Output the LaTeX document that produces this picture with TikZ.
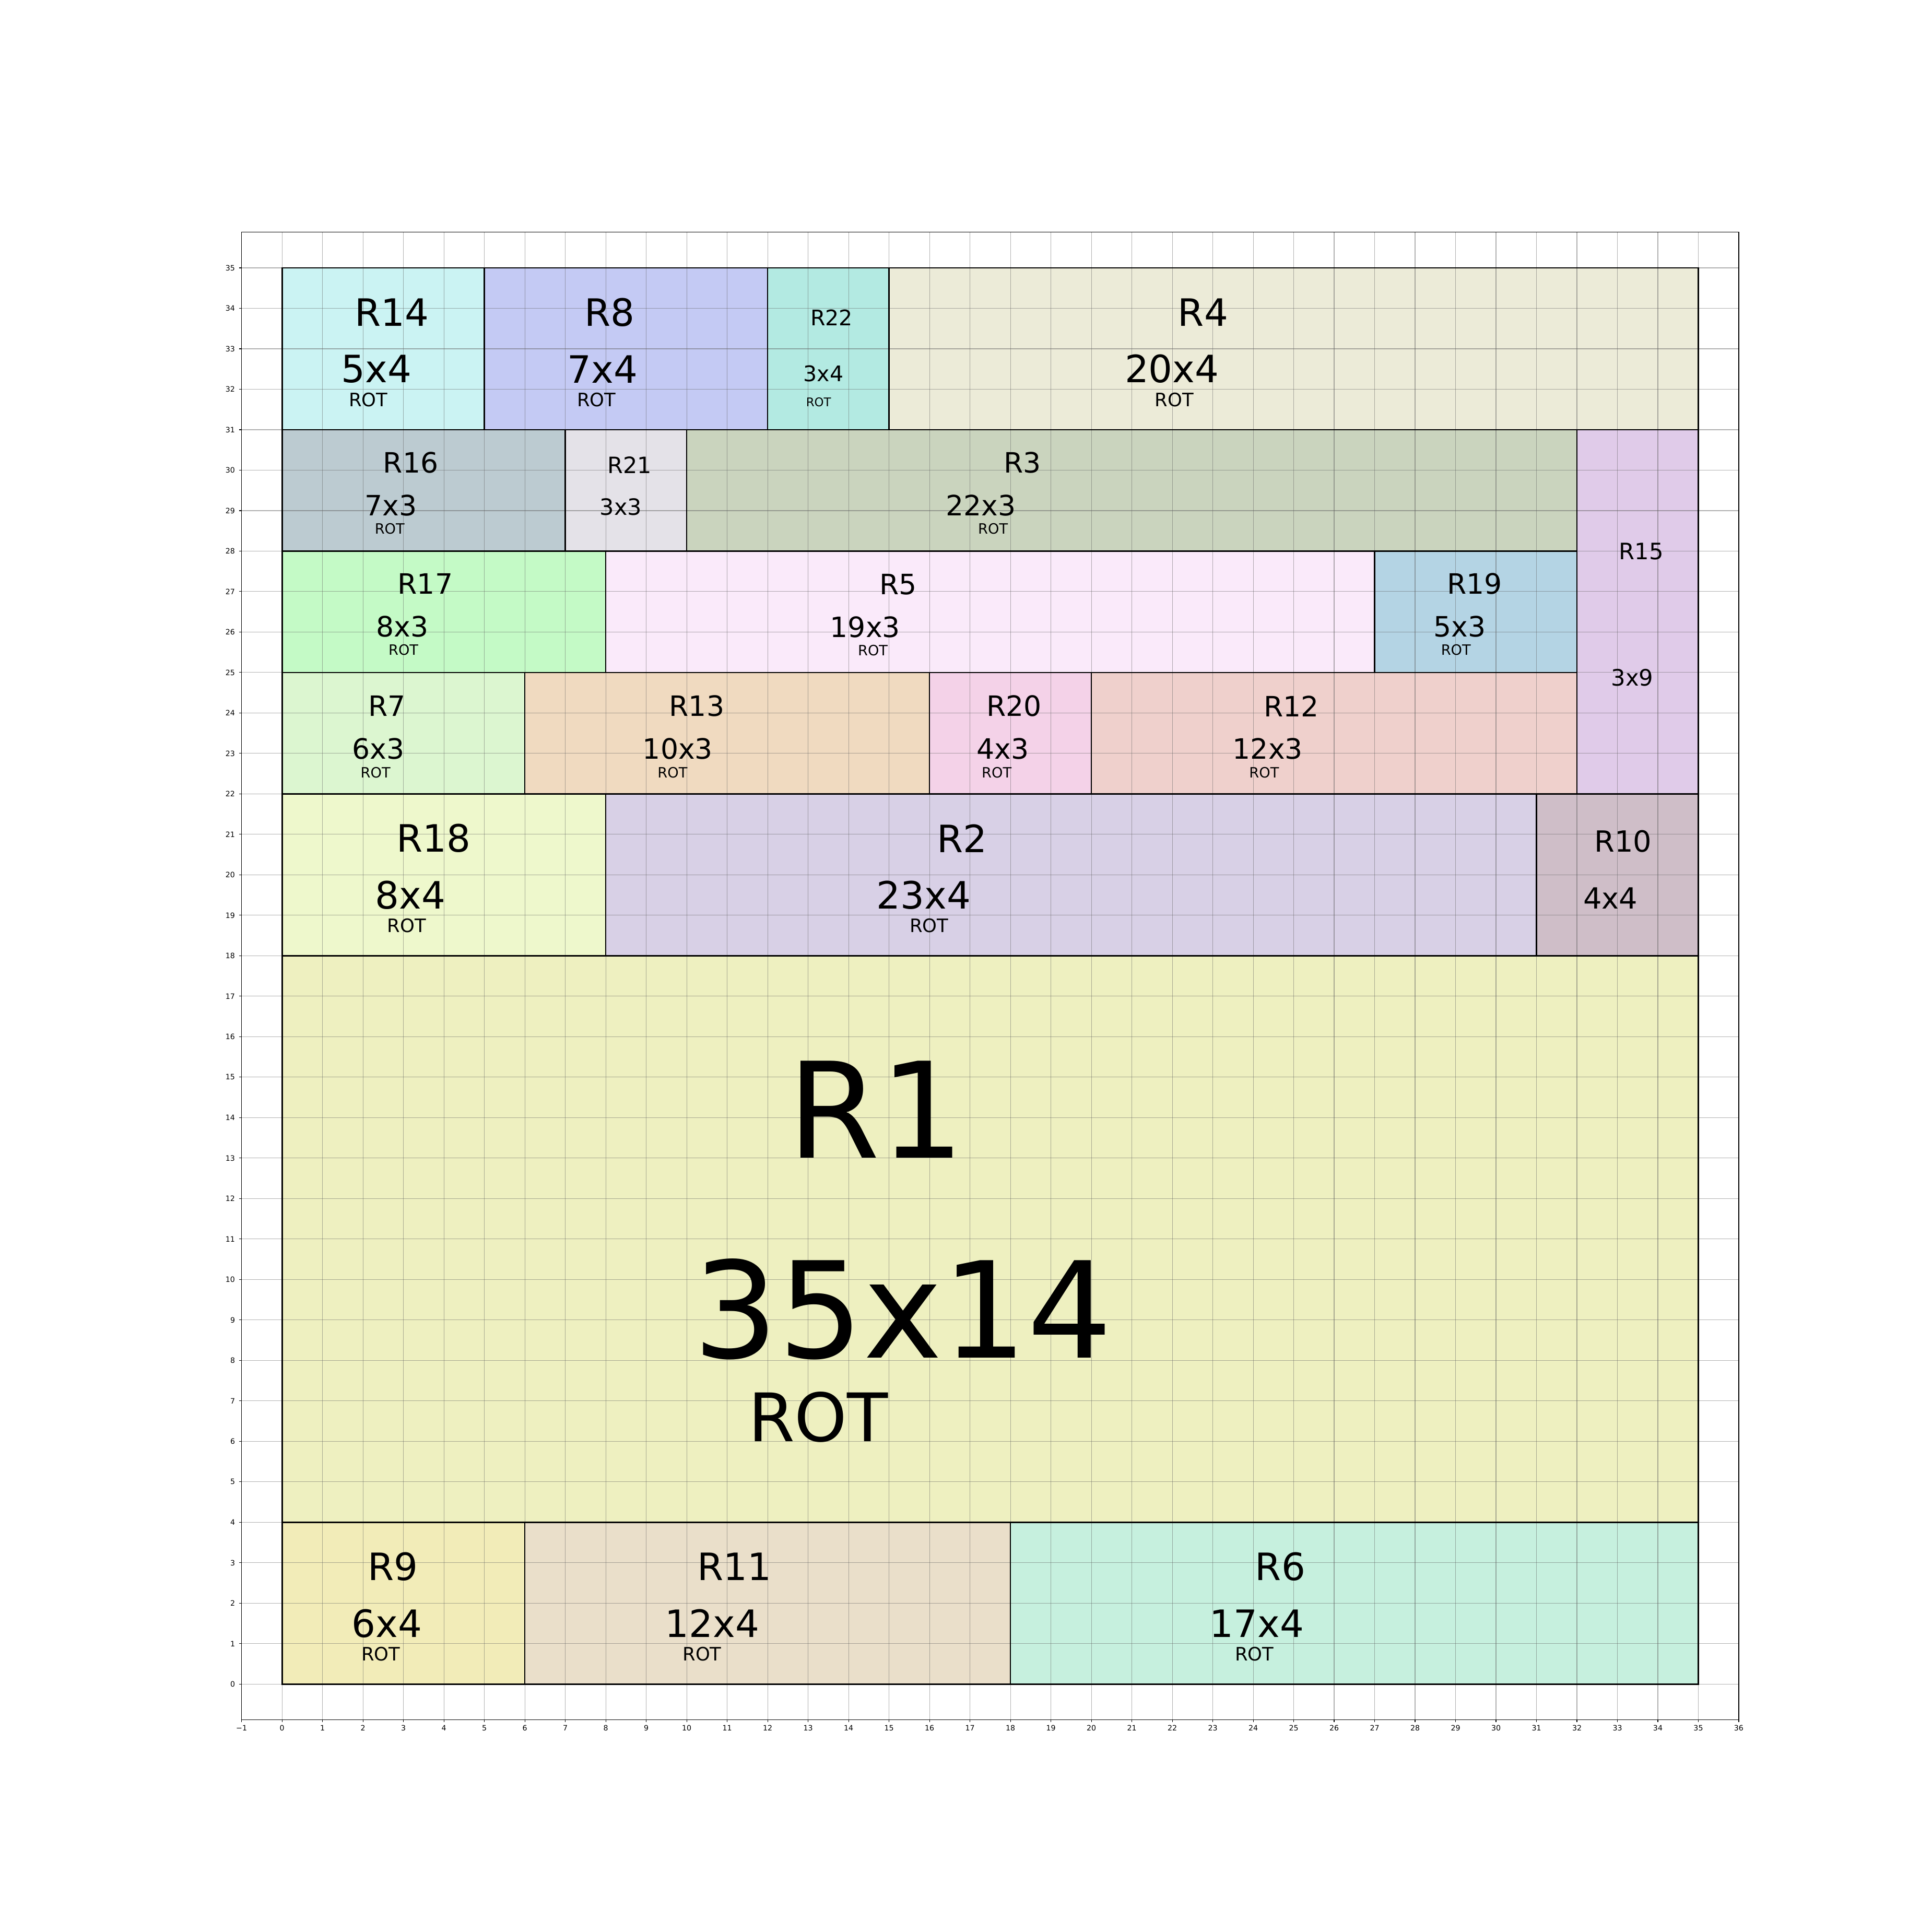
\documentclass[tikz,border=0pt]{standalone}
\usepackage{fontspec}
\setmainfont{DejaVu Sans}
\usepackage{xcolor}
\usetikzlibrary{positioning}
\definecolor{gridc}{HTML}{616161}
\definecolor{cR1}{HTML}{EEF0C0}
\definecolor{cR2}{HTML}{D8D0E6}
\definecolor{cR3}{HTML}{CAD4BE}
\definecolor{cR4}{HTML}{ECEBD8}
\definecolor{cR5}{HTML}{FAEAFA}
\definecolor{cR6}{HTML}{C6F0DE}
\definecolor{cR7}{HTML}{DCF6D0}
\definecolor{cR8}{HTML}{C4CAF4}
\definecolor{cR9}{HTML}{F2ECB8}
\definecolor{cR10}{HTML}{CFBEC8}
\definecolor{cR11}{HTML}{EADFCA}
\definecolor{cR12}{HTML}{EFD0CC}
\definecolor{cR13}{HTML}{F0DAC0}
\definecolor{cR14}{HTML}{CBF3F3}
\definecolor{cR15}{HTML}{E0CBE9}
\definecolor{cR16}{HTML}{BCCBD1}
\definecolor{cR17}{HTML}{C4FAC6}
\definecolor{cR18}{HTML}{EEF8CC}
\definecolor{cR19}{HTML}{B4D4E4}
\definecolor{cR20}{HTML}{F4D2E8}
\definecolor{cR21}{HTML}{E4E2E8}
\definecolor{cR22}{HTML}{B3EAE2}

\begin{document}
\begin{tikzpicture}[
  lbl/.style={inner sep=0pt, font=\fontsize{#1}{#1}\selectfont},
  ticklbl/.style={inner sep=0pt, font=\fontsize{5.2}{5.2}\selectfont},
  box/.style={draw=black, line width=1pt},
  gridline/.style={draw=gridc, line width=0.4pt, opacity=0.5},
  spine/.style={draw=black, line width=0.4pt}
]
\useasboundingbox (-6.97,-6.125) rectangle (40.77,41.62);

% Packed rectangles: colour/x/y/w/h
\def\boxlist{cR14/0/31/5/4, cR8/5/31/7/4, cR22/12/31/3/4, cR4/15/31/20/4,
  cR16/0/28/7/3, cR21/7/28/3/3, cR3/10/28/22/3, cR15/32/22/3/9,
  cR17/0/25/8/3, cR5/8/25/19/3, cR19/27/25/5/3,
  cR7/0/22/6/3, cR13/6/22/10/3, cR20/16/22/4/3, cR12/20/22/12/3,
  cR18/0/18/8/4, cR2/8/18/23/4, cR10/31/18/4/4,
  cR1/0/4/35/14,
  cR9/0/0/6/4, cR11/6/0/12/4, cR6/18/0/17/4}
\foreach \c/\x/\y/\w/\h in \boxlist {
  \fill[fill=\c] (\x,\y) rectangle ++(\w,\h);
}

% Grid
\foreach \x in {-1,...,36} {
  \draw[gridline] (\x,-0.88) -- (\x,35.88);
}
\foreach \y in {0,...,35} {
  \draw[gridline] (-1,\y) -- (36,\y);
}

% Borders
\foreach \c/\x/\y/\w/\h in \boxlist {
  \draw[box] (\x,\y) rectangle ++(\w,\h);
}

% Axes frame and ticks
\draw[spine] (-1,-0.88) rectangle (36,35.88);
\foreach \x in {0,...,36} {
  \draw[spine] (\x,-0.88) -- ++(0,-0.063);
  \node[ticklbl] (xt\x) at (\x,-1.08) {\x};
}
\draw[spine] (-1,-0.88) -- ++(0,-0.063);
\node[ticklbl] (xtm1) at (-1,-1.08) {−1};
\foreach \y in {0,...,35} {
  \draw[spine] (-1,\y) -- ++(-0.063,0);
  \node[ticklbl, anchor=east] (yt\y) at (-1.156,\y) {\y};
}

% Top row
\node[lbl=26.5] (r14name) at (2.71,33.90) {R14};
\node[lbl=26.5] (r14size) at (2.33,32.50) {5x4};
\node[lbl=13] (r14rot) at (2.13,31.74) {ROT};
\node[lbl=26.5] (r8name) at (8.10,33.90) {R8};
\node[lbl=26.5] (r8size) at (7.92,32.50) {7x4};
\node[lbl=13] (r8rot) at (7.77,31.74) {ROT};
\node[lbl=15.1] (r22name) at (13.58,33.77) {R22};
\node[lbl=15.1] (r22size) at (13.38,32.38) {3x4};
\node[lbl=8.4] (r22rot) at (13.26,31.68) {ROT};
\node[lbl=26.5] (r4name) at (22.76,33.90) {R4};
\node[lbl=26.5] (r4size) at (21.99,32.50) {20x4};
\node[lbl=13] (r4rot) at (22.05,31.74) {ROT};

% Row 28-31
\node[lbl=19.7] (r16name) at (3.18,30.19) {R16};
\node[lbl=19.7] (r16size) at (2.69,29.13) {7x3};
\node[lbl=10] (r16rot) at (2.66,28.55) {ROT};
\node[lbl=15.8] (r21name) at (8.59,30.13) {R21};
\node[lbl=15.8] (r21size) at (8.37,29.09) {3x3};
\node[lbl=19.7] (r3name) at (18.30,30.19) {R3};
\node[lbl=19.7] (r3size) at (17.27,29.13) {22x3};
\node[lbl=10] (r3rot) at (17.57,28.55) {ROT};

% Tall one on the right
\node[lbl=15.9] (r15name) at (33.59,27.99) {R15};
\node[lbl=15.9] (r15size) at (33.37,24.87) {3x9};

% Row 25-28
\node[lbl=19.7] (r17name) at (3.54,27.19) {R17};
\node[lbl=19.7] (r17size) at (2.97,26.14) {8x3};
\node[lbl=10] (r17rot) at (3.00,25.56) {ROT};
\node[lbl=19.7] (r5name) at (15.23,27.17) {R5};
\node[lbl=19.7] (r5size) at (14.41,26.12) {19x3};
\node[lbl=10] (r5rot) at (14.60,25.55) {ROT};
\node[lbl=19.7] (r19name) at (29.47,27.19) {R19};
\node[lbl=19.7] (r19size) at (29.10,26.13) {5x3};
\node[lbl=10] (r19rot) at (29.01,25.56) {ROT};

% Row 22-25
\node[lbl=19.7] (r7name) at (2.59,24.17) {R7};
\node[lbl=19.7] (r7size) at (2.38,23.11) {6x3};
\node[lbl=10] (r7rot) at (2.31,22.53) {ROT};
\node[lbl=19.7] (r13name) at (10.25,24.17) {R13};
\node[lbl=19.7] (r13size) at (9.78,23.11) {10x3};
\node[lbl=10] (r13rot) at (9.65,22.53) {ROT};
\node[lbl=19.7] (r20name) at (18.09,24.17) {R20};
\node[lbl=19.7] (r20size) at (17.81,23.11) {4x3};
\node[lbl=10] (r20rot) at (17.66,22.53) {ROT};
\node[lbl=19.7] (r12name) at (24.94,24.17) {R12};
\node[lbl=19.7] (r12size) at (24.36,23.11) {12x3};
\node[lbl=10] (r12rot) at (24.27,22.53) {ROT};

% Row 18-22
\node[lbl=26.5] (r18name) at (3.75,20.90) {R18};
\node[lbl=26.5] (r18size) at (3.17,19.50) {8x4};
\node[lbl=13] (r18rot) at (3.08,18.74) {ROT};
\node[lbl=26.5] (r2name) at (16.81,20.90) {R2};
\node[lbl=26.5] (r2size) at (15.86,19.50) {23x4};
\node[lbl=13] (r2rot) at (15.99,18.74) {ROT};
\node[lbl=20.5] (r10name) at (33.14,20.83) {R10};
\node[lbl=20.5] (r10size) at (32.83,19.42) {4x4};

% Big one
\node[lbl=93.5] (r1name) at (14.68,14.20) {R1};
\node[lbl=94] (r1size) at (15.34,9.27) {35x14};
\node[lbl=47] (r1rot) at (13.25,6.60) {ROT};

% Bottom row
\node[lbl=26.5] (r9name) at (2.74,2.90) {R9};
\node[lbl=26.5] (r9size) at (2.59,1.50) {6x4};
\node[lbl=13] (r9rot) at (2.44,0.74) {ROT};
\node[lbl=26.5] (r11name) at (11.18,2.90) {R11};
\node[lbl=26.5] (r11size) at (10.63,1.50) {12x4};
\node[lbl=13] (r11rot) at (10.38,0.74) {ROT};
\node[lbl=26.5] (r6name) at (24.67,2.90) {R6};
\node[lbl=26.5] (r6size) at (24.09,1.50) {17x4};
\node[lbl=13] (r6rot) at (24.03,0.74) {ROT};

\end{tikzpicture}
\end{document}
